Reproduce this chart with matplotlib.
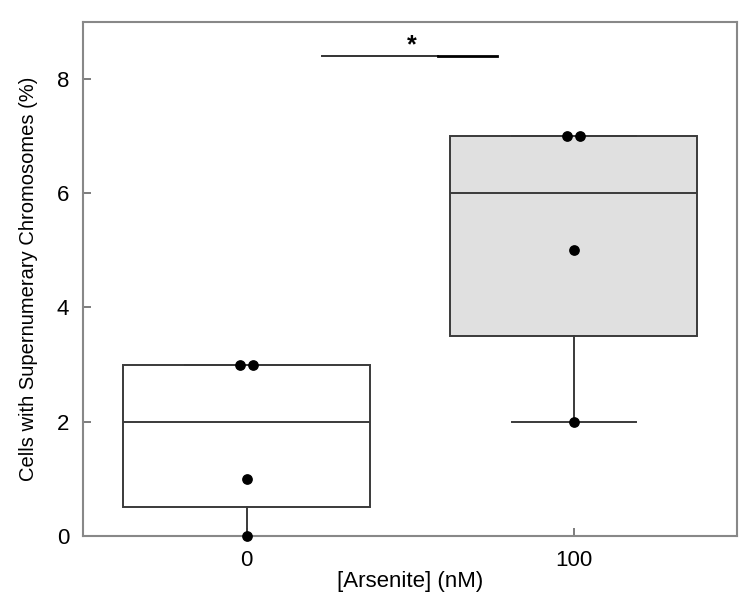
import matplotlib.pyplot as plt

plt.rcParams['font.family'] = ['Liberation Sans', 'DejaVu Sans']

# data
groups = ['0', '100']
values_0 = [0, 1, 3, 3]
values_100 = [2, 5, 7, 7]
# small horizontal offsets used in the figure for tied points
jitter_0 = [0, 0, -0.02, 0.02]
jitter_100 = [0, 0, -0.02, 0.02]
box_fills = ['white', '#e0e0e0']
sig_y = 8.4
sig_x = (1.23, 1.585, 1.765)
star_x = 1.505


def tukey_stats(vals, label):
    # hinges = medians of lower/upper halves (as in the original figure)
    v = sorted(vals)
    n = len(v)
    half = (n + 1) // 2

    def med(a):
        m = len(a) // 2
        return a[m] if len(a) % 2 else (a[m - 1] + a[m]) / 2

    return dict(med=med(v), q1=med(v[:half]), q3=med(v[n - half:]),
                whislo=v[0], whishi=v[-1], fliers=[], label=label)


fig = plt.figure(figsize=(7.5, 6.03), dpi=100)
ax = fig.add_axes([0.111, 0.111, 0.872, 0.853])

stats = [tukey_stats(values_0, groups[0]), tukey_stats(values_100, groups[1])]
line_kw = dict(color='#3a3a3a', linewidth=1.4)
bp = ax.bxp(stats, positions=[1, 2], widths=0.755, patch_artist=True,
            showfliers=False,
            boxprops=dict(edgecolor='#3a3a3a', linewidth=1.4),
            medianprops=line_kw, whiskerprops=line_kw, capprops=line_kw)
for patch, fc in zip(bp['boxes'], box_fills):
    patch.set_facecolor(fc)
for cap in bp['caps']:
    x0, x1 = cap.get_xdata()
    c = (x0 + x1) / 2
    cap.set_xdata([c - 0.19, c + 0.19])

for pos, vals, jit in [(1, values_0, jitter_0), (2, values_100, jitter_100)]:
    ax.scatter([pos + j for j in jit], vals, s=45, color='black', zorder=4,
               clip_on=False)

# significance bar
ax.plot(sig_x[:2], [sig_y, sig_y], color='#333333', linewidth=1.4)
ax.plot(sig_x[1:], [sig_y, sig_y], color='black', linewidth=2.0)
ax.text(star_x, sig_y - 0.02, '*', ha='center', va='bottom',
        fontsize=18, fontweight='bold')

ax.set_xlim(0.5, 2.5)
ax.set_ylim(0, 9)
ax.set_xticks([1, 2])
ax.set_xticklabels(groups)
ax.set_yticks([0, 2, 4, 6, 8])
ax.tick_params(direction='in', length=6, width=1.2, color='#666666',
               labelsize=16, pad=10)
for sp in ax.spines.values():
    sp.set_color('#888888')
    sp.set_linewidth(1.5)

ax.set_xlabel('[Arsenite] (nM)', fontsize=16, labelpad=0)
ax.set_ylabel('Cells with Supernumerary Chromosomes (%)', fontsize=14.5,
              labelpad=14)

fig.savefig('out.png', dpi=100)
